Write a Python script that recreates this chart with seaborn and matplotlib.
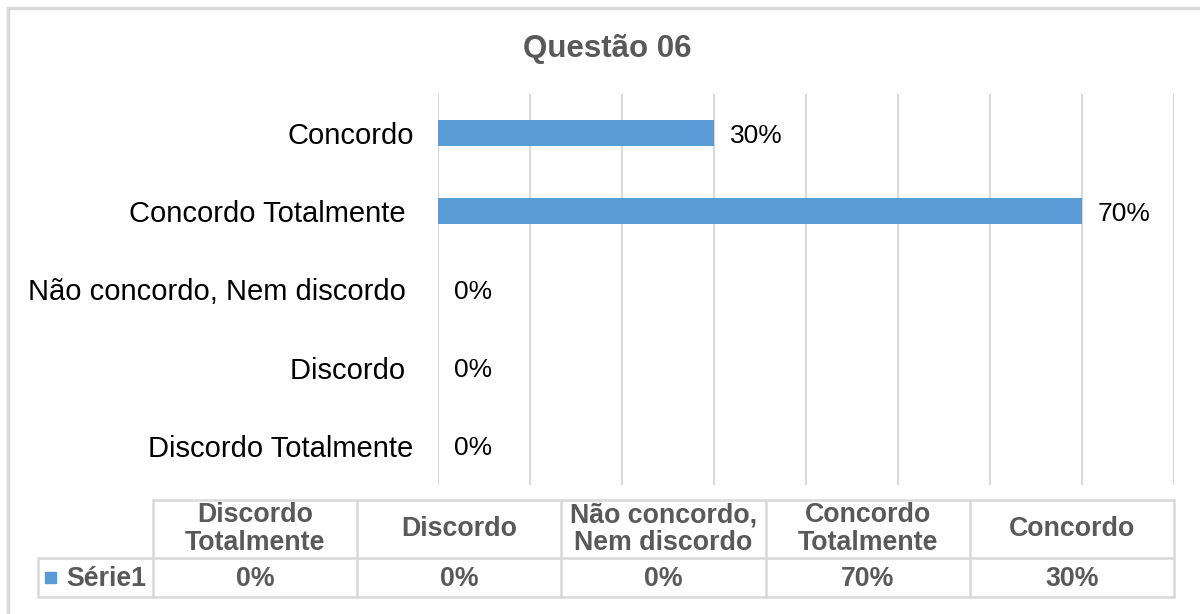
import textwrap

import matplotlib
matplotlib.use("Agg")
import matplotlib.pyplot as plt
from matplotlib.patches import Rectangle
import numpy as np
import pandas as pd
import seaborn as sns

# Survey answers, listed from the top bar downwards
categories = [
    "Concordo",
    "Concordo Totalmente ",
    "Não concordo, Nem discordo ",
    "Discordo ",
    "Discordo Totalmente",
]
values = [30, 70, 0, 0, 0]  # percent
series_name = "Série1"
title = "Questão 06"

BAR_COLOR = "#5B9BD5"
GRID_COLOR = "#D9D9D9"
TEXT_GRAY = "#595959"

sns.set_theme(style="white")
plt.rcParams["font.family"] = ["Liberation Sans", "DejaVu Sans"]

W, H = 1200, 614
fig = plt.figure(figsize=(W / 100, H / 100), dpi=100)
fig.patch.set_facecolor("white")

# Main bar chart
ax = fig.add_axes([438 / W, 1 - 485 / H, (1174 - 438) / W, (485 - 94) / H])
df = pd.DataFrame({"categoria": categories, "valor": values})
sns.barplot(data=df, x="valor", y="categoria", orient="h", color=BAR_COLOR,
            saturation=1, width=0.33, linewidth=0, ax=ax)
ax.set_xlim(0, 80)
ax.set_xticks(np.arange(0, 81, 10))
ax.xaxis.grid(True, color=GRID_COLOR, linewidth=1.5)
ax.yaxis.grid(False)
ax.set_axisbelow(True)
ax.tick_params(axis="x", bottom=False, labelbottom=False)
ax.tick_params(axis="y", left=False, pad=11.5, labelsize=21, labelcolor="black")
for spine in ax.spines.values():
    spine.set_visible(False)
ax.set_xlabel("")
ax.set_ylabel("")
value_labels = ax.bar_label(ax.containers[0], labels=[f"{v}%" for v in values],
                            padding=11.5, fontsize=19, color="black")
for t in value_labels:
    t.set_verticalalignment("center_baseline")

fig.text(607 / W, 1 - 46 / H, title, ha="center", va="center_baseline",
         fontsize=22.5, fontweight="bold", color=TEXT_GRAY)

# Overlay in pixel units for the frame and the data table
ov = fig.add_axes([0, 0, 1, 1], zorder=-1)
ov.set_xlim(0, W)
ov.set_ylim(H, 0)
ov.axis("off")

# chart frame (top and left edges)
ov.plot([8, 8], [8, H + 10], color=GRID_COLOR, lw=2.5)
ov.plot([8, W + 10], [8, 8], color=GRID_COLOR, lw=2.5)

# data table below the chart, columns in bottom-to-top category order
tbl_cats = categories[::-1]
tbl_vals = values[::-1]
col_edges = np.linspace(153, 1174, len(tbl_cats) + 1)
top, sep, bottom, key_left = 500, 558, 597, 38
lw = 1.8
ov.plot([col_edges[0], col_edges[-1]], [top, top], color=GRID_COLOR, lw=lw)
ov.plot([key_left, col_edges[-1]], [sep, sep], color=GRID_COLOR, lw=lw)
ov.plot([key_left, col_edges[-1]], [bottom, bottom], color=GRID_COLOR, lw=lw)
ov.plot([key_left, key_left], [sep, bottom], color=GRID_COLOR, lw=lw)
for xe in col_edges:
    ov.plot([xe, xe], [top, bottom], color=GRID_COLOR, lw=lw)

for i, (cat, val) in enumerate(zip(tbl_cats, tbl_vals)):
    xc = (col_edges[i] + col_edges[i + 1]) / 2
    ov.text(xc, (top + sep) / 2, textwrap.fill(cat.strip(), 14),
            ha="center", va="center", fontsize=19.3, fontweight="bold",
            color=TEXT_GRAY, linespacing=1.08, multialignment="center")
    ov.text(xc, (sep + bottom) / 2 + 1, f"{val}%", ha="center", va="center",
            fontsize=19.3, fontweight="bold", color=TEXT_GRAY)

ov.add_patch(Rectangle((45, 572), 11, 11, color=BAR_COLOR))
ov.text(66, (sep + bottom) / 2 + 1, series_name, ha="left", va="center",
        fontsize=19.3, fontweight="bold", color=TEXT_GRAY)

fig.savefig("out.png", dpi=100, facecolor="white")
